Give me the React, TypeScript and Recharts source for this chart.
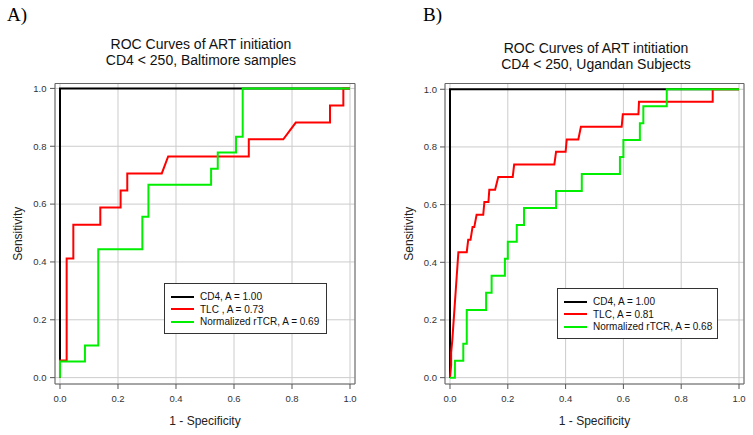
import React from 'react';
import { LineChart, Line, XAxis, YAxis, CartesianGrid, ReferenceArea, Legend, Label } from 'recharts';

const axisTicks = [0, 0.2, 0.4, 0.6, 0.8, 1.0];
const seriesColors = ['#000000', '#ff0000', '#00ee00'];

// Panel A: Baltimore samples
const baltCd4Fpr = [0, 0, 1];
const baltCd4Tpr = [0, 1, 1];
const baltTlcFpr = [0, 0, 0.023, 0.023, 0.046, 0.046, 0.139, 0.139, 0.209, 0.209, 0.232, 0.232, 0.351, 0.373, 0.651, 0.651, 0.770, 0.813, 0.931, 0.931, 0.977, 0.977, 1.0];
const baltTlcTpr = [0, 0.059, 0.059, 0.412, 0.412, 0.529, 0.529, 0.588, 0.588, 0.647, 0.647, 0.706, 0.706, 0.765, 0.765, 0.824, 0.824, 0.882, 0.882, 0.941, 0.941, 1.0, 1.0];
const baltTcrFpr = [0, 0, 0.086, 0.086, 0.132, 0.132, 0.284, 0.284, 0.305, 0.305, 0.521, 0.521, 0.544, 0.544, 0.607, 0.607, 0.630, 0.630, 1.0];
const baltTcrTpr = [0, 0.056, 0.056, 0.111, 0.111, 0.444, 0.444, 0.556, 0.556, 0.667, 0.667, 0.722, 0.722, 0.778, 0.778, 0.833, 0.833, 1.0, 1.0];
const baltLegend = ['CD4, A = 1.00', 'TLC , A = 0.73', 'Normalized rTCR, A = 0.69'];
const baltTitle = ['ROC Curves of ART initiation', 'CD4 < 250, Baltimore samples'];

// Panel B: Ugandan subjects
const ugCd4Fpr = [0, 0, 1];
const ugCd4Tpr = [0, 1, 1];
const ugTlcFpr = [0, 0.004, 0.004, 0.008, 0.011, 0.014, 0.017, 0.020, 0.023, 0.026, 0.029, 0.058, 0.063, 0.071, 0.078, 0.084, 0.092, 0.115, 0.119, 0.133, 0.136, 0.156, 0.167, 0.217, 0.222, 0.361, 0.367, 0.400, 0.404, 0.444, 0.453, 0.594, 0.598, 0.652, 0.654, 0.909, 0.909, 1.0];
const ugTlcTpr = [0, 0.043, 0.087, 0.130, 0.174, 0.217, 0.261, 0.304, 0.348, 0.391, 0.435, 0.435, 0.478, 0.478, 0.522, 0.522, 0.565, 0.565, 0.609, 0.609, 0.652, 0.652, 0.696, 0.696, 0.739, 0.739, 0.783, 0.783, 0.826, 0.826, 0.870, 0.870, 0.913, 0.913, 0.957, 0.957, 1.0, 1.0];
const ugTcrFpr = [0, 0.017, 0.017, 0.046, 0.046, 0.058, 0.058, 0.125, 0.125, 0.144, 0.144, 0.190, 0.190, 0.200, 0.200, 0.231, 0.231, 0.256, 0.256, 0.367, 0.367, 0.456, 0.456, 0.588, 0.588, 0.600, 0.600, 0.657, 0.657, 0.669, 0.669, 0.750, 0.750, 1.0];
const ugTcrTpr = [0, 0, 0.059, 0.059, 0.118, 0.118, 0.235, 0.235, 0.294, 0.294, 0.353, 0.353, 0.412, 0.412, 0.471, 0.471, 0.529, 0.529, 0.588, 0.588, 0.647, 0.647, 0.706, 0.706, 0.765, 0.765, 0.824, 0.824, 0.882, 0.882, 0.941, 0.941, 1.0, 1.0];
const ugLegend = ['CD4, A = 1.00', 'TLC, A = 0.81', 'Normalized rTCR, A = 0.68'];
const ugTitle = ['ROC Curves of ART intitiation', 'CD4 < 250, Ugandan Subjects'];

const toPoints = (fpr: number[], tpr: number[]) => fpr.map((x, i) => ({ x, y: tpr[i] }));

const FONT = '"Liberation Sans", Arial, Helvetica, sans-serif';

interface PanelProps {
  left: number;
  width: number;
  marginRight: number;
  xDomain: [number, number];
  yDomain: [number, number];
  series: { x: number; y: number }[][];
  labels: string[];
  legendBox: { left: number; top: number; width: number; height: number };
  yTitleOffset: number;
  yTickMargin: number;
}

const RocPanel: React.FC<PanelProps> = ({ left, width, marginRight, xDomain, yDomain, series, labels, legendBox, yTitleOffset, yTickMargin }) => {
  // legend rows come from our own label list so the order stays CD4, TLC, rTCR
  const renderLegend = () => (
    <div style={{ width: legendBox.width, height: legendBox.height, boxSizing: 'border-box', border: '1px solid #333', background: '#fff', paddingTop: 6.5, fontFamily: FONT }}>
      {labels.map((lbl, i) => (
        <div key={lbl} style={{ display: 'flex', alignItems: 'center', height: 12.5 }}>
          <svg width={35} height={12} style={{ flex: 'none' }}>
            <line x1={6} x2={29} y1={6} y2={6} stroke={seriesColors[i]} strokeWidth={2} />
          </svg>
          <span style={{ fontSize: 10, color: '#111', whiteSpace: 'nowrap' }}>{lbl}</span>
        </div>
      ))}
    </div>
  );

  return (
    <div style={{ position: 'absolute', left, top: 0 }}>
      <LineChart width={width} height={435} margin={{ top: 83.5, right: marginRight, bottom: 0, left: 0 }} style={{ fontFamily: FONT }}>
        <CartesianGrid stroke="#cccccc" strokeWidth={1} />
        <XAxis type="number" dataKey="x" domain={xDomain} ticks={axisTicks} allowDataOverflow
          tickFormatter={(v: number) => v.toFixed(1)} height={51} tickSize={5} tickMargin={6}
          axisLine={false} tickLine={{ stroke: '#555' }} tick={{ fontSize: 9.5, fill: '#333' }}>
          <Label value="1 - Specificity" position="insideBottom" offset={10} style={{ fontSize: 12, fill: '#222' }} />
        </XAxis>
        <YAxis type="number" domain={yDomain} ticks={axisTicks} allowDataOverflow
          tickFormatter={(v: number) => v.toFixed(1)} width={55} tickSize={5} tickMargin={yTickMargin}
          axisLine={false} tickLine={{ stroke: '#555' }} tick={{ fontSize: 9.5, fill: '#333' }}>
          <Label value="Sensitivity" angle={-90} position="insideLeft" offset={yTitleOffset} style={{ fontSize: 12, fill: '#222', textAnchor: 'middle' }} />
        </YAxis>
        <ReferenceArea x1={xDomain[0]} x2={xDomain[1]} y1={yDomain[0]} y2={yDomain[1]} fill="none" stroke="#666" strokeWidth={1} />
        {series.map((pts, i) => (
          <Line key={labels[i]} data={pts} dataKey="y" name={labels[i]} type="linear" stroke={seriesColors[i]}
            strokeWidth={2} dot={false} activeDot={false} isAnimationActive={false} />
        ))}
        <Legend layout="vertical" align="center" verticalAlign="middle" content={renderLegend}
          wrapperStyle={{ position: 'absolute', left: legendBox.left, top: legendBox.top, width: legendBox.width, height: legendBox.height }} />
      </LineChart>
    </div>
  );
};

const Title: React.FC<{ lines: string[]; centerX: number; top: number }> = ({ lines, centerX, top }) => (
  <div style={{ position: 'absolute', left: centerX - 150, width: 300, top, textAlign: 'center', fontFamily: FONT, fontSize: 14, lineHeight: '16px', color: '#111' }}>
    {lines.map(l => <div key={l}>{l}</div>)}
  </div>
);

const PanelTag: React.FC<{ text: string; left: number }> = ({ text, left }) => (
  <div style={{ position: 'absolute', left, top: 5, fontFamily: '"Liberation Serif", "Times New Roman", serif', fontSize: 19, lineHeight: '20px', color: '#000' }}>
    {text}
  </div>
);

export default function App() {
  const baltSeries = [toPoints(baltCd4Fpr, baltCd4Tpr), toPoints(baltTlcFpr, baltTlcTpr), toPoints(baltTcrFpr, baltTcrTpr)];
  const ugSeries = [toPoints(ugCd4Fpr, ugCd4Tpr), toPoints(ugTlcFpr, ugTlcTpr), toPoints(ugTcrFpr, ugTcrTpr)];

  return (
    <div style={{ position: 'absolute', left: 0, top: 0, width: 753, height: 435, background: '#fff', overflow: 'hidden' }}>
      <PanelTag text="A)" left={7} />
      <PanelTag text="B)" left={423} />
      <Title lines={baltTitle} centerX={201} top={36} />
      <Title lines={ugTitle} centerX={596} top={40} />
      <RocPanel left={0} width={376} marginRight={21} xDomain={[-0.0172, 1.0172]} yDomain={[-0.022, 1.017]}
        series={baltSeries} labels={baltLegend} legendBox={{ left: 164, top: 283, width: 163, height: 51 }}
        yTitleOffset={18} yTickMargin={3.5} />
      <RocPanel left={390} width={363} marginRight={9} xDomain={[-0.0173, 1.0173]} yDomain={[-0.022, 1.02]}
        series={ugSeries} labels={ugLegend} legendBox={{ left: 167, top: 288, width: 161, height: 51 }}
        yTitleOffset={19} yTickMargin={3} />
    </div>
  );
}
